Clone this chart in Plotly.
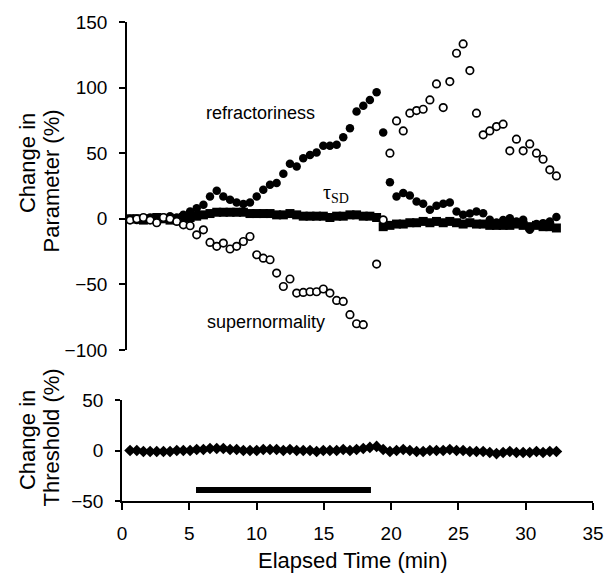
import plotly.graph_objects as go

# Sample times (min) for the excitability recordings
time_min = [0.60, 1.10, 1.59, 2.09, 2.58, 3.08, 3.57, 4.07, 4.56, 5.06,
            5.55, 6.05, 6.54, 7.04, 7.53, 8.03, 8.52, 9.02, 9.51, 10.01,
            10.50, 11.00, 11.49, 11.99, 12.48, 12.98, 13.47, 13.97, 14.46, 14.96,
            15.45, 15.95, 16.44, 16.94, 17.43, 17.93, 18.42, 18.92, 19.41, 19.91,
            20.40, 20.90, 21.39, 21.89, 22.38, 22.88, 23.37, 23.87, 24.36, 24.86,
            25.35, 25.85, 26.34, 26.84, 27.33, 27.83, 28.32, 28.82, 29.31, 29.81,
            30.30, 30.80, 31.29, 31.79, 32.28]

# Change in strength-duration time constant (%)
tau_sd = [0, 0, -1, 0, 1, 0, -1, 0, 1, 1,
          2, 3, 4, 5, 5, 5, 5, 5, 4, 4,
          4, 4, 3, 3, 4, 3, 2, 2, 2, 2,
          1, 2, 2, 3, 3, 2, 2, 1, -6, -5,
          -4, -4, -3, -3, -2, -3, -2, -3, -2, -3,
          -4, -3, -4, -4, -5, -5, -5, -5, -4, -5,
          -6, -5, -6, -6, -7]

# Change in refractoriness (%)
refractoriness = [0, -1, 0, 1, -1, 1, 2, 1, 3, 5.6,
                  8.1, 10.7, 17, 21.3, 17, 14.5, 12.4, 11.2, 12.4, 17,
                  22.1, 25.9, 27.2, 34.3, 41.9, 39.8, 46.2, 48.7, 50.5, 55.6,
                  55.6, 56.4, 62.2, 69.1, 81.7, 86.1, 90.6, 96.5, 65.7, 27.9,
                  17, 19.6, 17.8, 13.2, 11.4, 6.9, 9.9, 11.4, 12.4, 5.6,
                  3, 4, 5.6, 4.3, -0.8, -2.8, -1, 0.5, -2, -0.8,
                  -8.4, -4, -3.3, -2, 1.3]

# Change in supernormality (%)
supernormality = [-1, 0, 1, -1, -3, 1, 0, -2, -4.6, -5.3,
                  -12.2, -8.4, -18, -21, -18.5, -23, -21, -17.3, -13.5, -27.4,
                  -30, -31.2, -41.4, -51.6, -45.9, -56.6, -56.1, -55.6, -55.6, -53.5,
                  -56.6, -62.2, -63, -73.1, -80, -80.7, None, -34.5, -0.8, 50,
                  74.6, 67, 80.5, 82.5, 83.5, 90.6, 102.8, 84.8, 104.6, 126.2,
                  133.3, 113, 80.5, 64, 67, 70.3, 72.1, 51.8, 60.7, 51.8,
                  57.1, 50, 45.4, 37.3, 32.7]

# Change in threshold (%)
threshold = [0, 0, -1, -1, -1, -1, -1, 0, 0, 0,
             1, 1, 2, 2, 2, 1, 1, 0, 0, 0,
             1, 1, 1, 0, 1, 0, 0, 0, -1, 0,
             0, 0, 1, 0, 1, 2, 3, 4, 1, -1,
             0, 1, 0, -1, -1, 0, 0, 0, 1, 0,
             0, -1, -1, -1, -2, -3, -2, -1, -2, -2,
             -2, -1, -2, -1, -1]

# Ischaemia period bar (min) and its level on the threshold panel (%)
ischaemia_min = [5.5, 18.5]
ischaemia_level = [-39, -39]

x_ticks = [0, 5, 10, 15, 20, 25, 30, 35]
param_ticks = [-100, -50, 0, 50, 100, 150]
thresh_ticks = [-50, 0, 50]

FONT = "Liberation Sans, Arial, sans-serif"
BLACK = "#000000"

fig = go.Figure()

fig.add_trace(go.Scatter(
    x=time_min, y=tau_sd, mode="markers", xaxis="x", yaxis="y",
    marker=dict(symbol="square", size=9, color=BLACK, line=dict(width=0)),
    name="tau_SD"))
fig.add_trace(go.Scatter(
    x=time_min, y=refractoriness, mode="markers", xaxis="x", yaxis="y",
    marker=dict(symbol="circle", size=8.5, color=BLACK, line=dict(width=0)),
    name="refractoriness"))
fig.add_trace(go.Scatter(
    x=time_min, y=supernormality, mode="markers", xaxis="x", yaxis="y",
    marker=dict(symbol="circle", size=7.5, color="white",
                line=dict(width=1.7, color=BLACK)),
    name="supernormality"))

fig.add_trace(go.Scatter(
    x=time_min, y=threshold, mode="markers", xaxis="x", yaxis="y2",
    marker=dict(symbol="diamond", size=9, color=BLACK, line=dict(width=0)),
    name="threshold"))
fig.add_trace(go.Scatter(
    x=ischaemia_min, y=ischaemia_level, mode="lines", xaxis="x", yaxis="y2",
    line=dict(color=BLACK, width=6), name="ischaemia"))

# Paper coordinates of pixel positions inside the plotting area
L, R, T, B = 122, 13, 22, 79
W, H = 616, 580
PW, PH = W - L - R, H - T - B


def px(xp):
    return (xp - L) / PW


def py(yp):
    return (H - B - yp) / PH


axis_common = dict(
    showline=True, linecolor=BLACK, linewidth=1.5, ticks="outside",
    tickcolor=BLACK, tickwidth=1.5, showgrid=False, zeroline=False,
    tickfont=dict(family=FONT, size=19, color=BLACK),
)

fig.update_layout(
    width=W, height=H, autosize=False,
    margin=dict(l=L, r=R, t=T, b=B),
    paper_bgcolor="white", plot_bgcolor="white",
    showlegend=False,
    xaxis=dict(range=[0, 35], tickvals=x_ticks, anchor="y2", ticklen=7,
               ticklabelstandoff=7, **axis_common),
    yaxis=dict(range=[-100, 150], tickvals=param_ticks,
               domain=[py(350), py(22)], anchor="free", position=px(126),
               ticklen=6, ticklabelstandoff=8, **axis_common),
    yaxis2=dict(range=[-50, 50], tickvals=thresh_ticks,
                domain=[0, py(400)], anchor="x", ticklen=5,
                ticklabelstandoff=8, **axis_common),
)

title_font = dict(family=FONT, size=22, color=BLACK)
annotations = [
    dict(text="Change in", x=px(25), y=py(163), textangle=-90),
    dict(text="Parameter (%)", x=px(50), y=py(181), textangle=-90),
    dict(text="Change in", x=px(25), y=py(440), textangle=-90),
    dict(text="Threshold (%)", x=px(50), y=py(437), textangle=-90),
    dict(text="Elapsed Time (min)", x=px(358), y=py(560), textangle=0),
]
for a in annotations:
    fig.add_annotation(xref="paper", yref="paper", showarrow=False,
                       xanchor="center", yanchor="middle", font=title_font, **a)

label_font = dict(family=FONT, size=18, color=BLACK)
fig.add_annotation(x=10.3, y=81, xref="x", yref="y", text="refractoriness",
                   showarrow=False, font=label_font)
fig.add_annotation(x=10.7, y=-79, xref="x", yref="y", text="supernormality",
                   showarrow=False, font=label_font)
fig.add_annotation(x=15.9, y=19, xref="x", yref="y",
                   text="τ<sub>SD</sub>", showarrow=False,
                   font=dict(family="Liberation Serif, Times New Roman, serif",
                             size=20, color=BLACK))

fig.write_html("out.html")
